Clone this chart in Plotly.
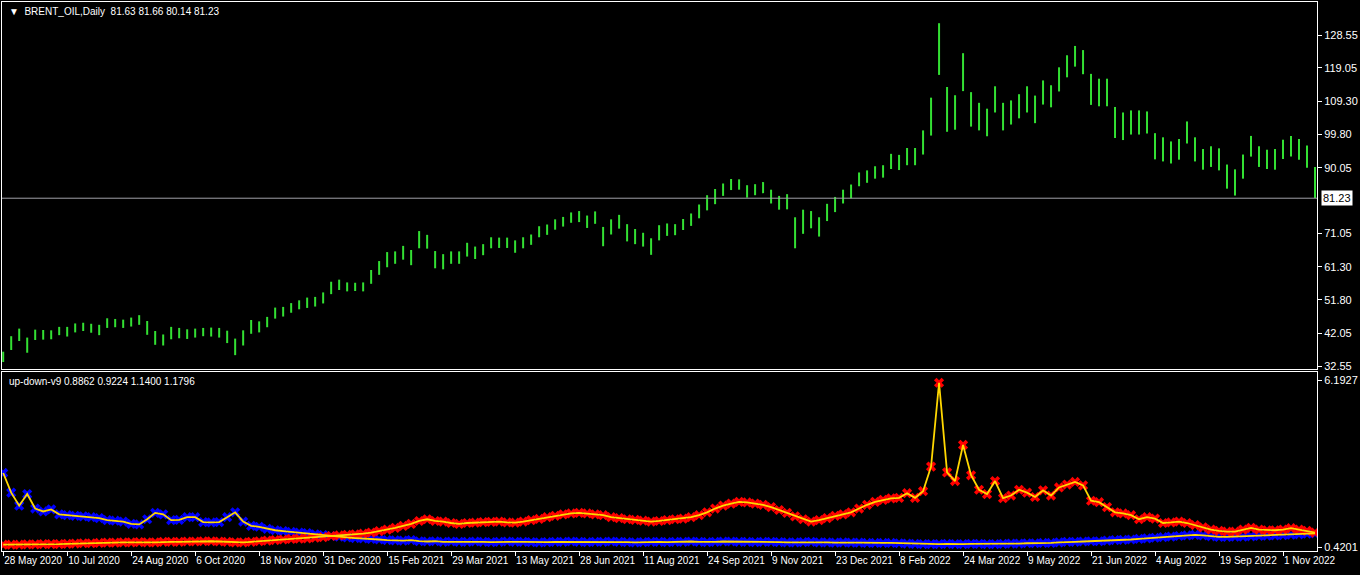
import plotly.graph_objects as go

# ---- price (4-day columns, mid price and half range) ----
mid = [35.2, 39.2, 41.6, 38.6, 41.6, 41.6, 41.6, 42.7, 42.5, 43.6, 43.9, 43.5, 43.0, 45.0, 45.0, 44.8,
       45.3, 45.9, 43.6, 40.7, 40.1, 42.1, 42.1, 41.8, 42.1, 42.4, 42.4, 42.2, 41.0, 38.1, 40.7, 43.9,
       43.9, 45.3, 47.9, 48.3, 49.4, 50.3, 50.9, 51.2, 52.3, 55.2, 56.1, 55.5, 55.5, 55.5, 58.4, 61.0,
       63.4, 64.0, 65.4, 64.0, 69.2, 68.6, 63.4, 62.8, 64.0, 64.0,
       66.3, 65.4, 66.3, 68.3, 68.3, 68.3, 67.2, 68.3, 69.2, 71.5, 72.1, 73.6, 74.4, 75.6, 75.9, 74.4,
       75.6, 70.1, 72.9, 74.4, 71.2, 70.1, 69.2, 67.2, 71.2, 72.1, 72.1, 73.6, 75.0, 77.4, 79.9, 81.7,
       83.7, 85.2, 85.2, 83.2, 83.7, 84.3, 81.7, 79.9, 80.2, 71.2, 74.4, 75.0, 72.9, 77.1, 79.4, 81.7,
       83.2, 86.7, 87.5, 88.7, 89.0, 91.9,
       91.6, 93.3, 93.3, 97.4, 104.9, 124.5, 107.0, 106.1, 117.8, 107.0, 104.9, 103.2, 109.9, 104.9,
       106.1, 107.9, 109.9, 107.0, 111.9, 110.8, 115.7, 119.5, 122.4, 120.7, 112.8, 111.9, 111.9, 103.2,
       102.1, 103.2, 103.2, 103.2, 96.3, 95.4, 94.5, 95.4, 100.3, 95.4, 92.5, 93.3, 92.5, 87.5, 85.8,
       90.4, 96.3, 93.3, 92.5, 92.5, 95.4, 96.3, 95.4, 93.3, 85.8]
half = [1.5, 2.0, 1.8, 2.2, 1.5, 1.4, 1.3, 1.2, 1.4, 1.3, 1.2, 1.3, 1.5, 1.4, 1.2, 1.2,
        1.3, 1.4, 2.0, 2.0, 1.6, 1.8, 1.5, 1.4, 1.3, 1.2, 1.3, 1.4, 1.8, 2.4, 2.2, 2.0,
        1.6, 1.5, 1.6, 1.4, 1.4, 1.3, 1.5, 1.4, 1.6, 1.8, 1.5, 1.3, 1.2, 1.3, 2.0, 2.0,
        2.2, 1.8, 2.0, 2.2, 2.5, 2.0, 2.5, 2.2, 1.8, 1.8,
        2.0, 1.8, 1.6, 1.6, 1.5, 1.5, 1.8, 1.6, 1.5, 1.6, 1.5, 1.5, 1.4, 1.5, 1.6, 1.8,
        1.8, 2.8, 2.2, 2.0, 2.5, 2.2, 2.0, 2.4, 2.2, 1.8, 1.6, 1.6, 1.8, 2.0, 2.2, 2.2,
        1.8, 1.6, 1.5, 1.8, 1.6, 1.6, 2.0, 2.0, 2.2, 4.5, 3.5, 2.5, 2.8, 2.5, 2.2, 2.0,
        2.0, 2.0, 1.8, 1.8, 1.8, 2.2,
        2.2, 2.5, 2.5, 3.5, 5.5, 7.5, 6.5, 5.0, 5.5, 5.0, 4.0, 4.0, 3.8, 4.0,
        3.5, 3.5, 3.8, 4.0, 3.5, 3.2, 3.5, 3.2, 3.0, 3.5, 4.5, 4.0, 4.0, 4.5,
        4.0, 3.5, 3.5, 3.2, 3.8, 3.5, 3.2, 3.0, 3.2, 3.5, 3.0, 3.0, 3.2, 3.5, 3.8,
        3.5, 3.0, 3.0, 2.8, 3.0, 2.8, 3.0, 3.0, 3.2, 4.5]

# ---- up-down-v9 indicator ----
line_a = [2.98, 2.30, 1.85, 2.25, 1.75, 1.65, 1.72, 1.55, 1.52, 1.50, 1.48, 1.45, 1.42, 1.35, 1.33, 1.30,
          1.22, 1.20, 1.38, 1.60, 1.55, 1.35, 1.36, 1.45, 1.45, 1.28, 1.27, 1.28, 1.45, 1.62, 1.30, 1.15,
          1.12, 1.05, 1.00, 0.97, 0.94, 0.92, 0.90, 0.86, 0.83, 0.80, 0.78, 0.75, 0.73, 0.72, 0.70, 0.68,
          0.66, 0.65, 0.64, 0.66, 0.62, 0.61, 0.62, 0.60, 0.61, 0.60, 0.60, 0.61, 0.60, 0.59, 0.60, 0.61,
          0.60, 0.60, 0.59, 0.58, 0.59, 0.60, 0.60, 0.61, 0.60, 0.59, 0.60, 0.60, 0.61, 0.60, 0.59, 0.58,
          0.59, 0.60, 0.60, 0.59, 0.60, 0.60, 0.61, 0.60, 0.59, 0.60, 0.61, 0.61, 0.60, 0.60, 0.59, 0.60,
          0.60, 0.59, 0.58, 0.58, 0.59, 0.60, 0.58, 0.58, 0.57, 0.58, 0.57, 0.57, 0.56, 0.56, 0.56, 0.56,
          0.55, 0.54, 0.53, 0.52, 0.52, 0.52, 0.53, 0.52, 0.52, 0.53, 0.53, 0.52, 0.52, 0.53, 0.54, 0.54,
          0.55, 0.55, 0.56, 0.56, 0.58, 0.60, 0.60, 0.61, 0.62, 0.62, 0.64, 0.66, 0.67, 0.68, 0.70, 0.72,
          0.74, 0.76, 0.78, 0.80, 0.82, 0.84, 0.82, 0.79, 0.77, 0.77, 0.78, 0.78, 0.79, 0.80, 0.81, 0.82,
          0.83, 0.85, 0.86, 0.88, 0.89]
line_b = [0.50, 0.50, 0.50, 0.51, 0.51, 0.52, 0.52, 0.52, 0.53, 0.54, 0.55, 0.55, 0.56, 0.57, 0.57, 0.58,
          0.58, 0.59, 0.58, 0.58, 0.60, 0.60, 0.60, 0.61, 0.61, 0.62, 0.62, 0.61, 0.60, 0.58, 0.58, 0.60,
          0.62, 0.64, 0.66, 0.68, 0.70, 0.71, 0.72, 0.74, 0.76, 0.80, 0.82, 0.84, 0.86, 0.88, 0.92, 0.97,
          1.02, 1.08, 1.15, 1.22, 1.32, 1.38, 1.32, 1.30, 1.25, 1.22, 1.25, 1.26, 1.28, 1.29, 1.30, 1.27,
          1.26, 1.30, 1.35, 1.39, 1.45, 1.50, 1.55, 1.58, 1.60, 1.58, 1.55, 1.52, 1.45, 1.42, 1.38, 1.36,
          1.33, 1.30, 1.32, 1.35, 1.38, 1.40, 1.45, 1.52, 1.62, 1.75, 1.85, 1.92, 1.98, 1.96, 1.92, 1.88,
          1.80, 1.70, 1.60, 1.48, 1.38, 1.30, 1.35, 1.42, 1.50, 1.55, 1.62, 1.75, 1.88, 1.98, 2.05, 2.10,
          2.12, 2.28, 2.12, 2.35, 3.20, 6.10, 3.00, 2.70, 3.95, 2.90, 2.40, 2.25, 2.70, 2.11, 2.20, 2.40,
          2.30, 2.15, 2.38, 2.20, 2.48, 2.58, 2.67, 2.55, 2.02, 1.97, 1.80, 1.62, 1.58, 1.52, 1.38, 1.45,
          1.40, 1.25, 1.27, 1.30, 1.25, 1.18, 1.10, 1.02, 0.98, 0.95, 0.95, 1.02, 1.08, 1.02, 1.00, 1.00,
          1.02, 1.07, 1.02, 0.98, 0.92]

date_labels = ['28 May 2020', '10 Jul 2020', '24 Aug 2020', '6 Oct 2020', '18 Nov 2020', '31 Dec 2020',
               '15 Feb 2021', '29 Mar 2021', '13 May 2021', '28 Jun 2021', '11 Aug 2021', '24 Sep 2021',
               '9 Nov 2021', '23 Dec 2021', '8 Feb 2022', '24 Mar 2022', '9 May 2022', '21 Jun 2022',
               '4 Aug 2022', '19 Sep 2022', '1 Nov 2022']
price_ticks = [32.55, 42.05, 51.80, 61.30, 71.05, 90.05, 99.80, 109.30, 119.05, 128.55]
last_price = 81.23

xs = list(range(len(mid)))
xa = list(range(len(line_a)))
hi = [m + h for m, h in zip(mid, half)]
lo = [m - h for m, h in zip(mid, half)]

FONT = "Liberation Sans"
fig = go.Figure()

fig.add_trace(go.Ohlc(x=xs, open=lo, high=hi, low=lo, close=hi, tickwidth=0,
                      increasing_line_color="#33e033", decreasing_line_color="#33e033",
                      line_width=2, xaxis="x", yaxis="y", hoverinfo="skip"))

# markers first, yellow lines on top
fig.add_trace(go.Scatter(x=xa, y=line_a, mode="markers", xaxis="x2", yaxis="y2",
                         marker=dict(symbol="x", size=9, color="#0000ff", line_width=0)))
fig.add_trace(go.Scatter(x=xa, y=line_b, mode="markers", xaxis="x2", yaxis="y2",
                         marker=dict(symbol="x", size=9, color="#ff0000", line_width=0)))
fig.add_trace(go.Scatter(x=xa, y=line_a, mode="lines", line=dict(color="#ffd700", width=1.8),
                         xaxis="x2", yaxis="y2"))
fig.add_trace(go.Scatter(x=xa, y=line_b, mode="lines", line=dict(color="#ffd700", width=1.8),
                         xaxis="x2", yaxis="y2"))

xr = [-0.15, 164.25]
axis_common = dict(showgrid=False, zeroline=False, showline=True, linecolor="white", linewidth=1,
                   mirror=True, color="white", tickfont=dict(family=FONT, size=11, color="white"))

fig.update_layout(
    width=1360, height=575, paper_bgcolor="black", plot_bgcolor="black",
    margin=dict(l=2, r=43, t=2, b=24), showlegend=False,
    xaxis=dict(domain=[0, 1], range=xr, anchor="y", showticklabels=False, ticks="",
               rangeslider=dict(visible=False), **axis_common),
    yaxis=dict(domain=[0.3315, 1], range=[31.68, 138.15], side="right", anchor="x",
               tickvals=price_ticks, ticktext=[f"{v:.2f}" for v in price_ticks],
               ticks="outside", ticklen=4, tickcolor="white", **axis_common),
    xaxis2=dict(domain=[0, 1], range=xr, anchor="y2", tickvals=[8 * k for k in range(len(date_labels))],
                ticktext=date_labels, tickangle=0, automargin=False, ticklabelposition="outside right",
                ticks="outside", ticklen=4, tickcolor="white", **axis_common),
    yaxis2=dict(domain=[0, 0.326], range=[0.282, 6.47], side="right", anchor="x2",
                tickvals=[0.4201, 6.1927], ticktext=["0.4201", "6.1927"],
                ticks="outside", ticklen=4, tickcolor="white", **axis_common),
)
fig.update_xaxes(tickfont_size=10, selector=dict(anchor="y2"))

fig.add_shape(type="line", xref="x", yref="y", x0=xr[0], x1=xr[1], y0=last_price, y1=last_price,
              line=dict(color="#a0a0a8", width=1))
fig.add_annotation(xref="paper", yref="y", x=1.003, y=last_price, xanchor="left", yanchor="middle",
                   text=f"{last_price:.2f}", showarrow=False, bgcolor="white",
                   font=dict(family=FONT, size=11, color="black"), borderpad=1)
fig.add_annotation(xref="paper", yref="paper", x=0.004, y=0.997, xanchor="left", yanchor="top",
                   text="▼  BRENT_OIL,Daily  81.63 81.66 80.14 81.23", showarrow=False,
                   font=dict(family=FONT, size=10, color="white"))
fig.add_annotation(xref="paper", yref="paper", x=0.004, y=0.322, xanchor="left", yanchor="top",
                   text="up-down-v9 0.8862 0.9224 1.1400 1.1796", showarrow=False,
                   font=dict(family=FONT, size=10, color="white"))

fig.write_html("out.html", config={"displayModeBar": False},
               post_script="document.body.style.margin='0';")
